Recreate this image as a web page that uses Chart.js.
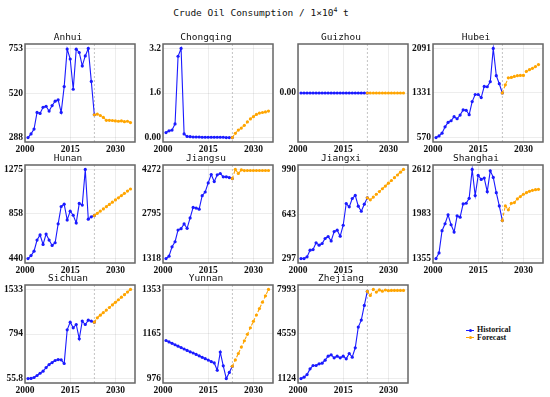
<!DOCTYPE html>
<html>
<head>
<meta charset="utf-8">
<script src="https://cdn.jsdelivr.net/npm/chart.js@4"></script>
<style>
  body { margin: 0; background: #fff; width: 550px; height: 397px; position: relative; overflow: hidden; }
  canvas { position: absolute; }
  #title { position: absolute; left: 0; width: 522px; top: 7px; text-align: center;
           font: 9.5px "DejaVu Sans Mono"; line-height: 12px; color: #111; }
  #title sup { font-size: 6.5px; vertical-align: 4px; line-height: 0; }
  #legend { position: absolute; left: 466px; top: 326px; font: bold 8px "Liberation Serif"; color: #111; }
  .item { height: 7.6px; line-height: 7.6px; white-space: nowrap; }
  .sw { display: inline-block; position: relative; width: 8px; height: 0; margin-right: 3px; vertical-align: middle; }
  .sw::after { content: ""; position: absolute; left: 2.5px; top: -1.9px; width: 3px; height: 3px; border-radius: 50%; }
  .hist { border-top: 1px solid #1a1aff; }
  .hist::after { background: #1a1aff; }
  .fcst { border-top: 1px dashed #ffa500; }
  .fcst::after { background: #ffa500; }
</style>
</head>
<body>
<div id="title">Crude Oil Consumption / 1×10<sup>4</sup> t</div>
<div id="legend">
  <div class="item"><span class="sw hist"></span>Historical</div>
  <div class="item"><span class="sw fcst"></span>Forecast</div>
</div>
<script>
// years
const histYears = [2001, 2002, 2003, 2004, 2005, 2006, 2007, 2008, 2009, 2010, 2011, 2012,
                   2013, 2014, 2015, 2016, 2017, 2018, 2019, 2020, 2021, 2022, 2023];
const fcstYears = [2023, 2024, 2025, 2026, 2027, 2028, 2029, 2030, 2031, 2032, 2033, 2034, 2035];
const xTicks = [2000, 2015, 2030];
const splitYear = 2023;

// values (1e4 t)
const anhuiHist = [288, 307, 332, 419, 414, 446, 451, 426, 455, 478, 485, 419, 554, 750, 698, 540, 749, 732, 662, 714, 753, 581, 407];
const anhuiFcst = [407, 410, 403, 393, 378, 378, 377, 375, 373, 375, 371, 373, 366];
const anhuiTicks = [288, 520, 753];
const anhuiLabels = ['288', '520', '753'];

const chongqingHist = [0.18, 0.24, 0.27, 0.49, 2.92, 3.2, 0.13, 0.04, 0.03, 0.02, 0.02, 0.02, 0.01, 0.01, 0.01, 0.01, 0.01, 0.01, 0.01, 0.01, 0, 0, 0];
const chongqingFcst = [0, 0.15, 0.27, 0.34, 0.44, 0.56, 0.67, 0.75, 0.83, 0.88, 0.90, 0.92, 0.95];
const chongqingTicks = [0, 1.6, 3.2];
const chongqingLabels = ['0.00', '1.6', '3.2'];

const guizhouHist = [0, 0, 0, 0, 0, 0, 0, 0, 0, 0, 0, 0, 0, 0, 0, 0, 0, 0, 0, 0, 0, 0, 0];
const guizhouFcst = [0, 0, 0, 0, 0, 0, 0, 0, 0, 0, 0, 0, 0];
const guizhouTicks = [0];
const guizhouLabels = ['0.00'];

const hubeiHist = [570, 598, 644, 753, 828, 857, 926, 891, 954, 1041, 1035, 960, 1184, 1305, 1305, 1253, 1443, 1437, 1523, 2091, 1626, 1489, 1331];
const hubeiFcst = [1331, 1470, 1590, 1597, 1614, 1626, 1631, 1631, 1700, 1729, 1752, 1781, 1815];
const hubeiTicks = [570, 1331, 2091];
const hubeiLabels = ['570', '1331', '2091'];

const hunanHist = [440, 468, 509, 613, 661, 572, 670, 613, 563, 588, 765, 928, 950, 802, 884, 846, 774, 957, 941, 1275, 809, 831, 843];
const hunanFcst = [843, 864, 885, 905, 926, 947, 968, 989, 1009, 1030, 1051, 1072, 1092];
const hunanTicks = [440, 858, 1275];
const hunanLabels = ['440', '858', '1275'];

const jiangsuHist = [1318, 1396, 1708, 1875, 2265, 2310, 2466, 2321, 2666, 3012, 2990, 2956, 3402, 3525, 3826, 4105, 3870, 4094, 4138, 4027, 4027, 4004, 3971];
const jiangsuFcst = [3971, 4272, 4140, 4255, 4235, 4238, 4238, 4238, 4238, 4238, 4238, 4238, 4238];
const jiangsuTicks = [1318, 2795, 4272];
const jiangsuLabels = ['1318', '2795', '4272'];

const jiangxiHist = [297, 297, 310, 362, 367, 419, 401, 414, 453, 468, 434, 507, 518, 471, 556, 725, 699, 764, 788, 704, 665, 720, 769];
const jiangxiFcst = [769, 754, 775, 797, 818, 840, 861, 883, 904, 926, 947, 969, 990];
const jiangxiTicks = [297, 643, 990];
const jiangxiLabels = ['297', '643', '990'];

const shanghaiHist = [1355, 1434, 1748, 1846, 1972, 1832, 1729, 1958, 1939, 2126, 2135, 2205, 2612, 2243, 2528, 2472, 2491, 2299, 2593, 2500, 2285, 2098, 1892];
const shanghaiFcst = [1892, 2098, 2042, 2135, 2145, 2196, 2229, 2262, 2285, 2304, 2318, 2327, 2332];
const shanghaiTicks = [1355, 1983, 2612];
const shanghaiLabels = ['1355', '1983', '2612'];

const sichuanHist = [55.8, 58, 73, 106, 144, 178, 238, 288, 321, 355, 371, 366, 305, 864, 991, 897, 952, 715, 1008, 952, 1024, 1008, 991];
const sichuanFcst = [991, 1063, 1106, 1149, 1191, 1234, 1277, 1319, 1362, 1405, 1447, 1490, 1533];
const sichuanTicks = [55.8, 794, 1533];
const sichuanLabels = ['55.8', '794', '1533'];

const yunnanHist = [1137, 1131, 1125, 1119, 1113, 1107, 1101, 1095, 1089, 1084, 1078, 1072, 1066, 1060, 1054, 1048, 1042, 1011, 1088, 1030, 976, 1002, 1028];
const yunnanFcst = [1028, 1055, 1082, 1109, 1136, 1163, 1191, 1218, 1245, 1272, 1299, 1326, 1353];
const yunnanTicks = [976, 1165, 1353];
const yunnanLabels = ['976', '1165', '1353'];

const zhejiangHist = [1124, 1227, 1433, 1870, 2128, 2128, 2257, 2308, 2540, 2849, 2952, 2720, 2849, 2720, 2849, 2643, 3054, 2771, 3496, 5089, 5630, 6758, 7839];
const zhejiangFcst = [7839, 7530, 7993, 7790, 7960, 7860, 7950, 7900, 7920, 7915, 7915, 7915, 7915];
const zhejiangTicks = [1124, 4559, 7993];
const zhejiangLabels = ['1124', '4559', '7993'];

const panels = [
  ['Anhui', anhuiHist, anhuiFcst, anhuiTicks, anhuiLabels],
  ['Chongqing', chongqingHist, chongqingFcst, chongqingTicks, chongqingLabels],
  ['Guizhou', guizhouHist, guizhouFcst, guizhouTicks, guizhouLabels],
  ['Hubei', hubeiHist, hubeiFcst, hubeiTicks, hubeiLabels],
  ['Hunan', hunanHist, hunanFcst, hunanTicks, hunanLabels],
  ['Jiangsu', jiangsuHist, jiangsuFcst, jiangsuTicks, jiangsuLabels],
  ['Jiangxi', jiangxiHist, jiangxiFcst, jiangxiTicks, jiangxiLabels],
  ['Shanghai', shanghaiHist, shanghaiFcst, shanghaiTicks, shanghaiLabels],
  ['Sichuan', sichuanHist, sichuanFcst, sichuanTicks, sichuanLabels],
  ['Yunnan', yunnanHist, yunnanFcst, yunnanTicks, yunnanLabels],
  ['Zhejiang', zhejiangHist, zhejiangFcst, zhejiangTicks, zhejiangLabels]
];

// layout of the grid
const colLeft = [25, 163, 298, 433];
const rowTop = [44, 165, 285];
const plotW = 111, plotH = 98;
const yAxisW = 25, xAxisH = 16, titleH = 16;

const tickFont = { family: 'Liberation Serif', size: 9.5, weight: 'bold' };
const gridColor = 'rgba(0,0,0,0.07)';

const framePlugin = {
  id: 'frame',
  beforeDatasetsDraw(chart) {
    const { ctx, chartArea: a, scales: { x } } = chart;
    const px = x.getPixelForValue(splitYear);
    ctx.save();
    ctx.strokeStyle = '#b4b4b4';
    ctx.lineWidth = 0.8;
    ctx.setLineDash([2, 2]);
    ctx.beginPath();
    ctx.moveTo(px, a.top);
    ctx.lineTo(px, a.bottom);
    ctx.stroke();
    ctx.restore();
  },
  afterDraw(chart) {
    const { ctx, chartArea: a } = chart;
    ctx.save();
    ctx.strokeStyle = '#666';
    ctx.lineWidth = 1.5;
    ctx.strokeRect(a.left, a.top, a.right - a.left, a.bottom - a.top);
    ctx.restore();
  }
};

panels.forEach(([name, hist, fcst, ticks, labels], i) => {
  const col = i % 4, row = Math.floor(i / 4);
  const canvas = document.createElement('canvas');
  canvas.width = yAxisW + plotW + 3;
  canvas.height = titleH + plotH + xAxisH;
  canvas.style.left = (colLeft[col] - yAxisW) + 'px';
  canvas.style.top = (rowTop[row] - titleH) + 'px';
  document.body.appendChild(canvas);

  const lo = ticks[0], hi = ticks[ticks.length - 1];
  const span = hi - lo || 1.1;
  const yMin = lo - 0.05 * span, yMax = hi + 0.05 * span;

  new Chart(canvas, {
    type: 'line',
    data: {
      datasets: [{
        label: 'Forecast',
        data: fcstYears.map((y, k) => ({ x: y, y: fcst[k] })),
        borderColor: '#ffa500',
        backgroundColor: '#ffa500',
        borderWidth: 1.1,
        borderDash: [3, 2],
        pointRadius: 1.6,
        pointBorderWidth: 0
      }, {
        label: 'Historical',
        data: histYears.map((y, k) => ({ x: y, y: hist[k] })),
        borderColor: '#1a1aff',
        backgroundColor: '#1a1aff',
        borderWidth: 1.1,
        pointRadius: 1.6,
        pointBorderWidth: 0
      }]
    },
    options: {
      responsive: false,
      animation: false,
      devicePixelRatio: 1,
      layout: { padding: { left: 0, right: 3, top: 0, bottom: 0 } },
      plugins: {
        legend: { display: false },
        tooltip: { enabled: false },
        title: {
          display: true,
          text: name,
          color: '#111',
          font: { family: 'DejaVu Sans Mono', size: 9.5, weight: 'normal' },
          padding: { top: 3.4, bottom: 1.2 }
        }
      },
      scales: {
        x: {
          type: 'linear',
          min: 2000,
          max: 2036.5,
          afterBuildTicks: s => { s.ticks = xTicks.map(v => ({ value: v })); },
          afterFit: s => { s.height = xAxisH; },
          ticks: { font: tickFont, color: '#111', padding: 2, maxRotation: 0, autoSkip: false, callback: v => String(v) },
          grid: { color: gridColor, drawTicks: false },
          border: { display: false }
        },
        y: {
          min: yMin,
          max: yMax,
          afterBuildTicks: s => { s.ticks = ticks.map(v => ({ value: v })); },
          afterFit: s => { s.width = yAxisW; },
          ticks: { font: tickFont, color: '#111', padding: 2, autoSkip: false, callback: (v, k) => labels[k] },
          grid: { color: gridColor, drawTicks: false },
          border: { display: false }
        }
      }
    },
    plugins: [framePlugin]
  });
});
</script>
</body>
</html>
